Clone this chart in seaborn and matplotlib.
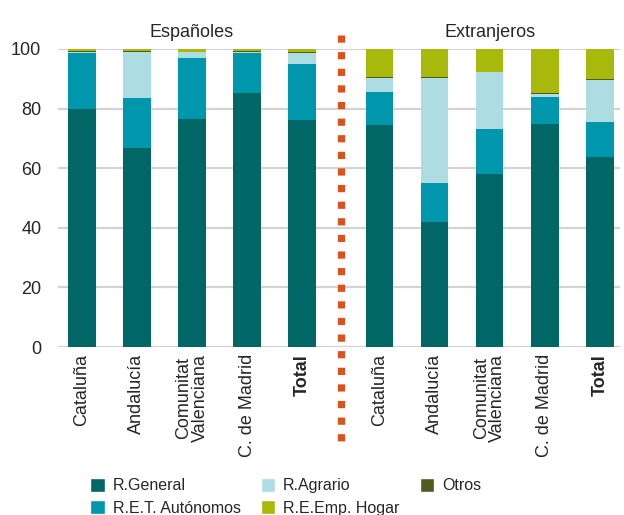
import numpy as np
import pandas as pd
import matplotlib.pyplot as plt
import seaborn as sns
from matplotlib.patches import Patch

# data (percent of afiliados per regimen)
regiones = ["Cataluña", "Andalucía", "Comunitat\nValenciana", "C. de Madrid", "Total"]
grupos = ["Españoles", "Extranjeros"]
general = [80.0, 66.8, 76.5, 85.3, 76.2, 74.6, 41.9, 57.9, 74.8, 63.9]
autonomos = [18.6, 16.9, 20.6, 13.5, 18.9, 10.9, 13.1, 15.4, 9.2, 11.7]
agrario = [0.5, 15.4, 1.8, 0.3, 3.7, 4.9, 35.3, 19.0, 1.0, 14.0]
otros = [0.2, 0.3, 0.1, 0.1, 0.2, 0.2, 0.2, 0.1, 0.1, 0.2]
hogar = [0.7, 0.6, 1.0, 0.8, 1.0, 9.4, 9.5, 7.6, 14.9, 10.2]

series = ["R.General", "R.E.T. Autónomos", "R.Agrario", "Otros", "R.E.Emp. Hogar"]
colores = {"R.General": "#006666", "R.E.T. Autónomos": "#0096AB",
           "R.Agrario": "#ADDCE2", "Otros": "#4E5B21",
           "R.E.Emp. Hogar": "#A9B90B"}

sns.set_style("white")
plt.rcParams['font.family'] = ['Liberation Sans', 'DejaVu Sans']

pos = [0, 1, 2, 3, 4, 5.4, 6.4, 7.4, 8.4, 9.4]
df = pd.DataFrame({"pos": pos, "R.General": general, "R.E.T. Autónomos": autonomos,
                   "R.Agrario": agrario, "Otros": otros, "R.E.Emp. Hogar": hogar})
cum = df[series].cumsum(axis=1)

fig = plt.figure(figsize=(6.24, 5.15), dpi=100)
ax = fig.add_axes([0.093, 0.326, 0.901, 0.579])

# stacked bars: draw cumulative totals from top layer down
for s in reversed(series):
    sns.barplot(x=df["pos"], y=cum[s], color=colores[s], width=0.5, native_scale=True,
                orient="x", errorbar=None, saturation=1, linewidth=0, ax=ax)

ax.set_ylim(0, 100)
ax.set_xlim(-0.43, 9.77)
ax.set_yticks([0, 20, 40, 60, 80, 100])
ax.yaxis.grid(True, color="#d3d3d3", lw=1.6)
ax.set_axisbelow(True)
sns.despine(ax=ax, left=True, bottom=True)
ax.set_xlabel("")
ax.set_ylabel("")

ax.set_xticks(pos, regiones * 2, rotation=90, va="top", ha="center", fontsize=13,
              linespacing=0.95)
for t in ax.get_xticklabels():
    if t.get_text() == "Total":
        t.set_fontweight("bold")
ax.tick_params(axis="x", length=0, pad=5)
ax.tick_params(axis="y", length=0, pad=12, labelsize=13)

# group headers
ax.text(2, 105.4, grupos[0], ha="center", va="center", fontsize=13, clip_on=False)
ax.text(7.4, 105.4, grupos[1], ha="center", va="center", fontsize=13, clip_on=False)

# dotted separator
ax.plot([4.7, 4.7], [104.7, -34.6], color="#D9531E", lw=5.2, dashes=(1.0, 1.3),
        dash_capstyle="butt", clip_on=False)

orden = ["R.General", "R.E.T. Autónomos", "R.Agrario", "R.E.Emp. Hogar", "Otros"]
handles = [Patch(facecolor=colores[s], label=s) for s in orden]
fig.legend(handles=handles, ncol=3, loc="upper left", bbox_to_anchor=(0.145, 0.072),
           frameon=False, fontsize=11.5, handlelength=0.9, handleheight=0.95,
           handletextpad=0.5, columnspacing=1.25, labelspacing=0.45,
           borderaxespad=0, borderpad=0)

fig.savefig("out.png", dpi=100)
